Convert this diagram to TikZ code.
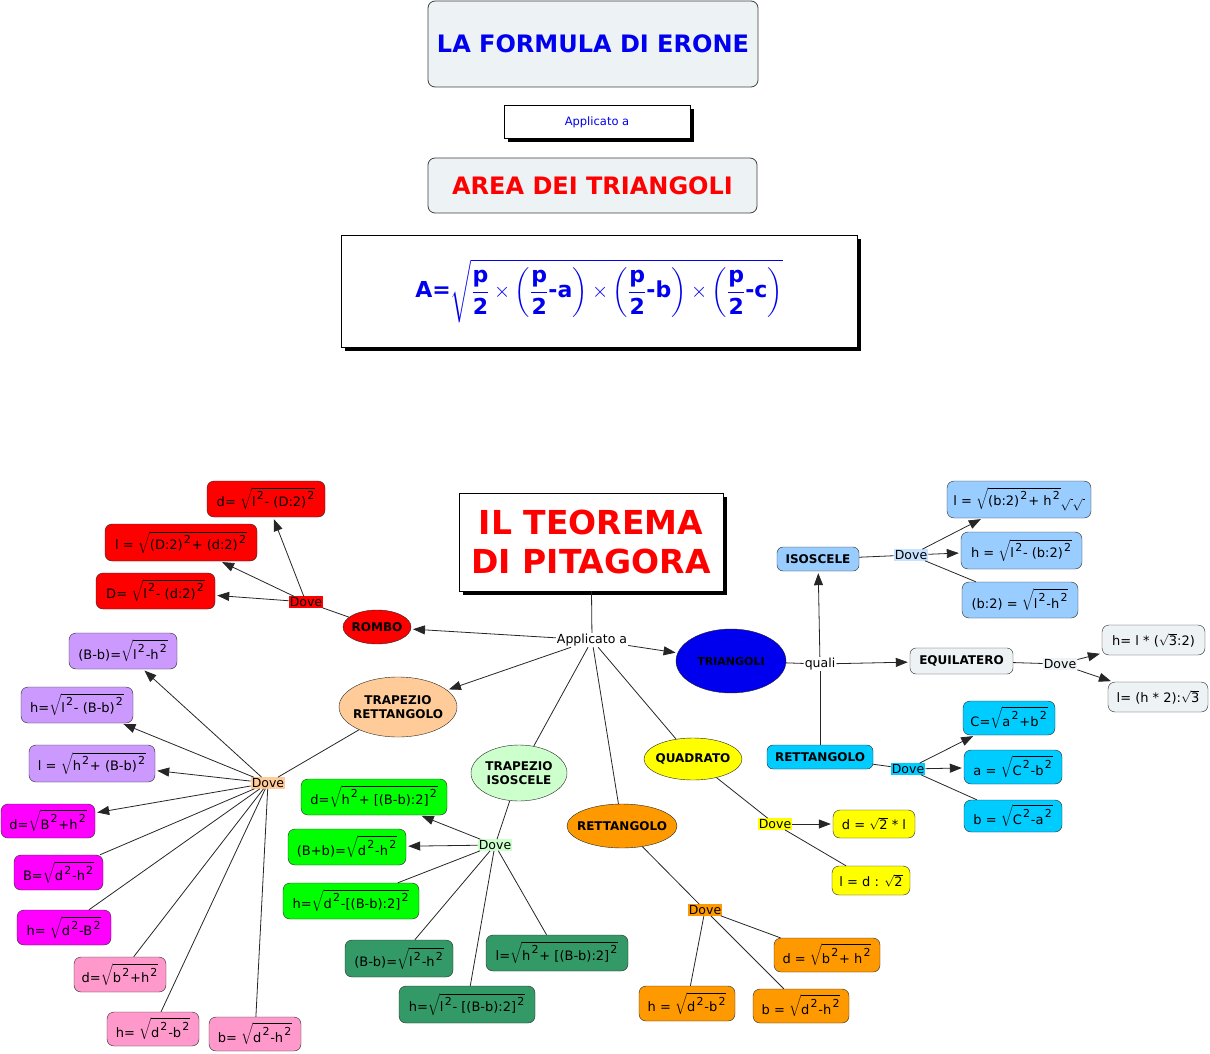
\documentclass[tikz,border=0pt]{standalone}
\usepackage{fontspec}
\setmainfont{DejaVu Sans}
\usepackage{amsmath}
\usetikzlibrary{arrows.meta,shapes.geometric,shadows}
\definecolor{tbg}{HTML}{EDF2F5}
\definecolor{tblue}{RGB}{0,0,238}
\definecolor{tred}{HTML}{FF0000}
\definecolor{lblue}{HTML}{99CCFF}
\definecolor{lblue2}{HTML}{C6E2FF}
\definecolor{cyanb}{HTML}{00CCFF}
\definecolor{purp}{HTML}{CC99FF}
\definecolor{magb}{HTML}{FF00FF}
\definecolor{pinkb}{HTML}{FF99CC}
\definecolor{greenb}{HTML}{00FF00}
\definecolor{dgreen}{HTML}{339966}
\definecolor{orangeb}{HTML}{FF9900}
\definecolor{yellowb}{HTML}{FFFF00}
\definecolor{lgreen}{HTML}{CCFFCC}
\definecolor{peach}{HTML}{FFCC99}
\newcommand\rt[1]{$\sqrt{\text{#1}}$}
\newcommand\sq{\kern1.2pt\raisebox{0.5em}{\fontsize{11}{11}\selectfont 2}\kern0.8pt}
\newcommand\hf{\genfrac{}{}{1.6pt}{0}{\text{p}}{\text{2}}}
\begin{document}
\begin{tikzpicture}[x=1pt,y=-1pt,
  fbx/.style n args={3}{draw=black!85, rounded corners=7pt, fill=#1, minimum width=#2, minimum height=#3, inner sep=2pt, font=\fontsize{13}{15}\selectfont},
  hbx/.style n args={3}{draw=black!85, rounded corners=6pt, fill=#1, minimum width=#2, minimum height=#3, inner sep=2pt, font=\fontsize{12}{14}\selectfont\bfseries},
  ell/.style n args={3}{ellipse, draw=black!85, fill=#1, minimum width=#2, minimum height=#3, inner xsep=-8pt, inner ysep=0pt, font=\fontsize{12}{14}\selectfont\bfseries, align=center},
  lab/.style={fill=#1, inner sep=1pt, font=\fontsize{12.5}{14}\selectfont},
  ln/.style={draw=black!85, line width=0.8pt},
  arr/.style={-{Triangle[length=12pt,width=9pt]}, shorten >=2pt},
  shd/.style={drop shadow={shadow xshift=4pt, shadow yshift=-4pt, opacity=1, fill=black}}
]
\useasboundingbox (0,0) rectangle (1210,1054);

% ---------- top part ----------
\node[draw=black!75, line width=0.8pt, rounded corners=7pt, fill=tbg, minimum width=330pt, minimum height=86pt,
      font=\fontsize{24}{28}\selectfont\bfseries, text=tblue] (erone) at (593,44) {LA FORMULA DI ERONE};
\node[draw=black, fill=white, shd, minimum width=186pt, minimum height=33pt,
      font=\fontsize{11.5}{13}\selectfont, text=tblue] (app1) at (597,122) {Applicato a};
\node[draw=black!75, line width=0.8pt, rounded corners=7pt, fill=tbg, minimum width=329pt, minimum height=55pt,
      font=\fontsize{24}{28}\selectfont\bfseries, text=tred] (area) at (592.5,185.5) {AREA DEI TRIANGOLI};
\node[draw=black, fill=white, shd, minimum width=516pt, minimum height=112pt,
      font=\fontsize{22}{26}\selectfont\bfseries, text=tblue] (heron) at (599,291)
  {$\text{A=}\sqrt{\hf\times\left(\hf\text{-a}\right)\times\left(\hf\text{-b}\right)\times\left(\hf\text{-c}\right)}$};

% ---------- centre ----------
\node[draw=black, fill=white, shd, minimum width=264pt, minimum height=98pt, align=center,
      font=\fontsize{33}{39}\selectfont\bfseries, text=tred] (pit) at (591,542) {IL TEOREMA\\DI PITAGORA};
\node[lab=white] (app) at (592,640) {Applicato a};

\node[ell={tred}{68pt}{34pt}] (rombo) at (377,627) {ROMBO};
\node[ell={peach}{118pt}{60pt}] (trr) at (398,707) {TRAPEZIO\\RETTANGOLO};
\node[ell={lgreen}{96pt}{56pt}] (tri) at (519,773) {TRAPEZIO\\ISOSCELE};
\node[ell={orangeb}{110pt}{44pt}] (rett) at (622,826) {RETTANGOLO};
\node[ell={yellowb}{98pt}{42pt}] (quad) at (693,759) {QUADRATO};
\node[ell={tblue}{110pt}{64pt}, font=\fontsize{11}{13}\selectfont\bfseries] (triang) at (731,661) {TRIANGOLI};

% ---------- right: triangles ----------
\node[lab=white] (quali) at (820,664) {quali};
\node[hbx={lblue}{82pt}{24pt}] (iso) at (818,559) {ISOSCELE};
\node[hbx={tbg}{103pt}{26pt}] (equi) at (961.5,661) {EQUILATERO};
\node[hbx={cyanb}{106pt}{24pt}] (rtc) at (820,757) {RETTANGOLO};

\node[lab=lblue2] (dlb) at (911,555) {Dove};
\node[fbx={lblue}{144pt}{37pt}] (i1) at (1019,499.5) {l = \rt{(b:2)\sq{}+ h\sq}$\sqrt{\,}\sqrt{\,}$};
\node[fbx={lblue}{121pt}{37pt}] (i2) at (1021.5,550.5) {h = \rt{l\sq- (b:2)\sq}};
\node[fbx={lblue}{116pt}{36pt}] (i3) at (1020,600) {(b:2) = \rt{l\sq-h\sq}};

\node[lab=tbg] (de) at (1060,664) {Dove};
\node[fbx={tbg}{103pt}{30pt}] (e1) at (1153.5,640) {h= l * (\rt{3}:2)};
\node[fbx={tbg}{100pt}{30pt}] (e2) at (1158,697) {l= (h * 2):\rt{3}};

\node[lab=cyanb] (dc) at (908,769) {Dove};
\node[fbx={cyanb}{92pt}{34pt}] (c1) at (1009,718) {C=\rt{a\sq+b\sq}};
\node[fbx={cyanb}{98pt}{34pt}] (c2) at (1013,767) {a = \rt{C\sq-b\sq}};
\node[fbx={cyanb}{98pt}{32pt}] (c3) at (1013,816) {b = \rt{C\sq-a\sq}};

% ---------- quadrato ----------
\node[lab=yellowb] (dy) at (775,824) {Dove};
\node[fbx={yellowb}{82pt}{28pt}] (q1) at (874,824) {d = \rt{2} * l};
\node[fbx={yellowb}{78pt}{29pt}] (q2) at (871,880.5) {l = d : \rt{2}};

% ---------- rettangolo ----------
\node[lab=orangeb] (dor) at (705,910) {Dove};
\node[fbx={orangeb}{106pt}{34pt}] (o1) at (827,955) {d = \rt{b\sq+ h\sq}};
\node[fbx={orangeb}{96pt}{34pt}] (o2) at (801,1006) {b = \rt{d\sq-h\sq}};
\node[fbx={orangeb}{96pt}{35pt}] (o3) at (687,1003.5) {h = \rt{d\sq-b\sq}};

% ---------- trapezio isoscele ----------
\node[lab=lgreen] (dg) at (495,845) {Dove};
\node[fbx={greenb}{146pt}{36pt}] (g1) at (374,797) {d=\rt{h\sq+ [(B-b):2]\sq}};
\node[fbx={greenb}{118pt}{36pt}] (g2) at (347,847) {(B+b)=\rt{d\sq-h\sq}};
\node[fbx={greenb}{136pt}{36pt}] (g3) at (351,901) {h=\rt{d\sq-[(B-b):2]\sq}};
\node[fbx={dgreen}{108pt}{37pt}] (g4) at (399,958.5) {(B-b)=\rt{l\sq-h\sq}};
\node[fbx={dgreen}{136pt}{37pt}] (g5) at (467,1004.5) {h=\rt{l\sq- [(B-b):2]\sq}};
\node[fbx={dgreen}{142pt}{36pt}] (g6) at (557,953) {l=\rt{h\sq+ [(B-b):2]\sq}};

% ---------- rombo ----------
\node[lab=tred] (dr) at (306,602) {Dove};
\node[fbx={tred}{118pt}{36pt}] (r1) at (266,499) {d= \rt{l\sq- (D:2)\sq}};
\node[fbx={tred}{152pt}{37pt}] (r2) at (181,542.5) {l = \rt{(D:2)\sq+ (d:2)\sq}};
\node[fbx={tred}{119pt}{36pt}] (r3) at (155.5,591) {D= \rt{l\sq- (d:2)\sq}};

% ---------- trapezio rettangolo ----------
\node[lab=peach] (dp) at (268,783) {Dove};
\node[fbx={purp}{108pt}{36pt}] (p1) at (123,651) {(B-b)=\rt{l\sq-h\sq}};
\node[fbx={purp}{112pt}{36pt}] (p2) at (77,705) {h=\rt{l\sq- (B-b)\sq}};
\node[fbx={purp}{126pt}{37pt}] (p3) at (92,763.5) {l = \rt{h\sq+ (B-b)\sq}};
\node[fbx={magb}{94pt}{34pt}] (m1) at (48,821) {d=\rt{B\sq+h\sq}};
\node[fbx={magb}{89pt}{35pt}] (m2) at (58.5,872.5) {B=\rt{d\sq-h\sq}};
\node[fbx={magb}{94pt}{35pt}] (m3) at (64,927.5) {h= \rt{d\sq-B\sq}};
\node[fbx={pinkb}{92pt}{35pt}] (k1) at (120,974.5) {d=\rt{b\sq+h\sq}};
\node[fbx={pinkb}{92pt}{34pt}] (k2) at (153,1029) {h= \rt{d\sq-b\sq}};
\node[fbx={pinkb}{92pt}{34pt}] (k3) at (255,1034) {b= \rt{d\sq-h\sq}};

% ---------- connectors ----------
\draw[ln] (pit) -- (app);
\draw[ln,arr] (app) -- (rombo);
\draw[ln,arr] (app) -- (trr);
\draw[ln] (app) -- (tri);
\draw[ln] (app) -- (rett);
\draw[ln] (app) -- (quad);
\draw[ln,arr] (app) -- (triang);

\draw[ln] (triang) -- (quali);
\draw[ln,arr] (quali) -- (iso);
\draw[ln,arr] (quali) -- (equi);
\draw[ln] (quali) -- (rtc);

\draw[ln] (iso) -- (dlb);
\draw[ln,arr] (dlb) -- (i1);
\draw[ln,arr] (dlb) -- (i2);
\draw[ln] (dlb) -- (i3);

\draw[ln] (equi) -- (de);
\draw[ln,arr] (de) -- (e1);
\draw[ln,arr] (de) -- (e2);

\draw[ln] (rtc) -- (dc);
\draw[ln,arr] (dc) -- (c1);
\draw[ln,arr] (dc) -- (c2);
\draw[ln] (dc) -- (c3);

\draw[ln] (quad) -- (dy);
\draw[ln,arr] (dy) -- (q1);
\draw[ln] (dy) -- (q2);

\draw[ln] (rett) -- (dor);
\draw[ln] (dor) -- (o1);
\draw[ln] (dor) -- (o2);
\draw[ln] (dor) -- (o3);

\draw[ln] (tri) -- (dg);
\draw[ln,arr] (dg) -- (g1);
\draw[ln,arr] (dg) -- (g2);
\draw[ln] (dg) -- (g3);
\draw[ln] (dg) -- (g4);
\draw[ln] (dg) -- (g5);
\draw[ln] (dg) -- (g6);

\draw[ln] (rombo) -- (dr);
\draw[ln,arr] (dr) -- (r1);
\draw[ln,arr] (dr) -- (r2);
\draw[ln,arr] (dr) -- (r3);

\draw[ln] (trr) -- (dp);
\draw[ln,arr] (dp) -- (p1);
\draw[ln,arr] (dp) -- (p2);
\draw[ln,arr] (dp) -- (p3);
\draw[ln,arr] (dp) -- (m1);
\draw[ln] (dp) -- (m2);
\draw[ln] (dp) -- (m3);
\draw[ln] (dp) -- (k1);
\draw[ln] (dp) -- (k2);
\draw[ln] (dp) -- (k3);
\end{tikzpicture}
\end{document}
